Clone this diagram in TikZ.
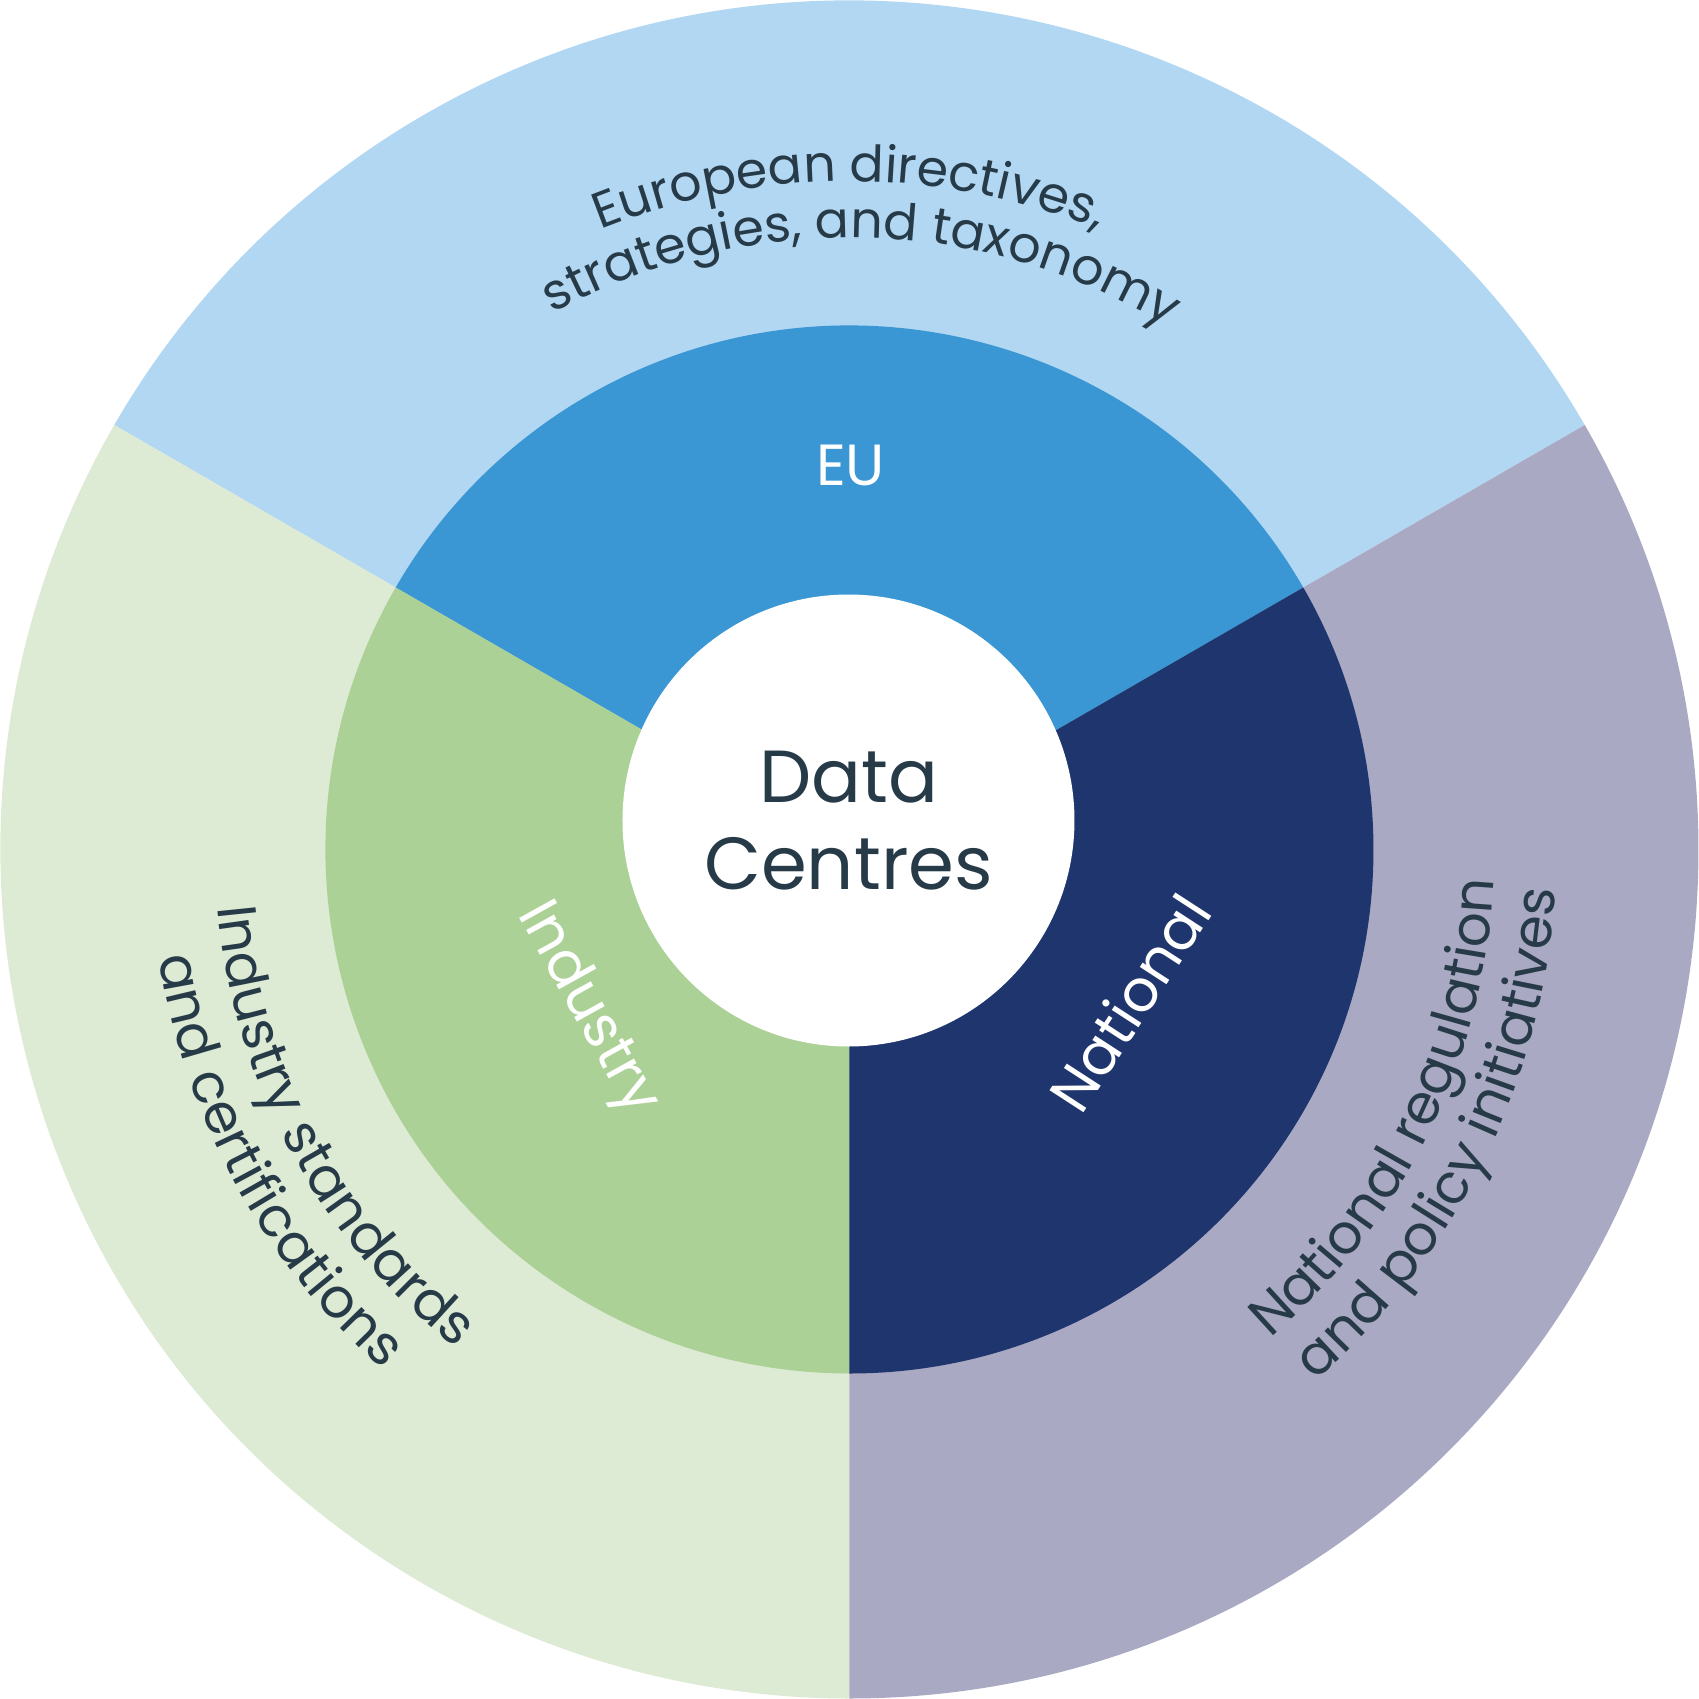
\documentclass[tikz,border=0pt]{standalone}
\usepackage{fontspec}
\setmainfont{Poppins}
\usetikzlibrary{decorations.text}
\definecolor{outerblue}{HTML}{B2D7F2}
\definecolor{eublue}{HTML}{3A97D4}
\definecolor{navy}{HTML}{1F356D}
\definecolor{outergray}{HTML}{A9A9C3}
\definecolor{midgreen}{HTML}{ACD196}
\definecolor{outergreen}{HTML}{DDEAD4}
\definecolor{textdark}{HTML}{263A48}
\newcommand{\topfont}{\fontsize{14.4}{16}\selectfont\color{textdark}}
\newcommand{\sidefont}{\fontsize{15.6}{18}\selectfont\color{textdark}}
\newcommand{\midfont}{\fontsize{16.5}{19}\selectfont\color{white}}
\tikzset{
  curvedlabel/.style={decorate, decoration={text along path, text align=center, text={#1}}},
  midlabel/.style={font=\midfont, inner sep=0pt},
}
\begin{document}
\begin{tikzpicture}
\useasboundingbox (-8.495,-8.495) rectangle (8.495,8.495);
% outer ring sectors
\fill[outerblue]  (0,0) -- (30:8.49)  arc[start angle=30,  end angle=150, radius=8.49] -- cycle;
\fill[outergreen] (0,0) -- (150:8.49) arc[start angle=150, end angle=270, radius=8.49] -- cycle;
\fill[outergray]  (0,0) -- (270:8.49) arc[start angle=270, end angle=390, radius=8.49] -- cycle;
% middle ring sectors
\fill[eublue]   (0,0) -- (30:5.24)  arc[start angle=30,  end angle=150, radius=5.24] -- cycle;
\fill[midgreen] (0,0) -- (150:5.24) arc[start angle=150, end angle=270, radius=5.24] -- cycle;
\fill[navy]     (0,0) -- (270:5.24) arc[start angle=270, end angle=390, radius=5.24] -- cycle;
% centre
\node[circle, fill=white, minimum size=4.52cm, inner sep=0pt] (core) at (-0.01,0.29) {};
\node[align=center, font=\fontsize{21}{24.8}\selectfont, text=textdark] (dc) at (core.center) {Data\\Centres};
% middle labels
\node[midlabel] (eu) at (0.01,3.84) {EU};
\node[midlabel, rotate=57] (nat) at (2.80,-1.53) {National};
\node[midlabel, rotate=-61] (ind) at (-2.63,-1.60) {Industry};
% outer curved labels
\path[curvedlabel={|\topfont|European directives,}] (150:6.68) arc[start angle=150, end angle=30, radius=6.68];
\path[curvedlabel={|\topfont|strategies, and taxonomy}] (148.8:6.12) arc[start angle=148.8, end angle=28.8, radius=6.12];
\path[curvedlabel={|\sidefont|National regulation}] (-86:6.45) arc[start angle=-86, end angle=34, radius=6.45];
\path[curvedlabel={|\sidefont|and policy initiatives}] (-86:7.07) arc[start angle=-86, end angle=34, radius=7.07];
\path[curvedlabel={|\sidefont|Industry standards}] (148.5:6.35) arc[start angle=148.5, end angle=268.5, radius=6.35];
\path[curvedlabel={|\sidefont|and certifications}] (148.5:6.99) arc[start angle=148.5, end angle=268.5, radius=6.99];
\end{tikzpicture}
\end{document}
